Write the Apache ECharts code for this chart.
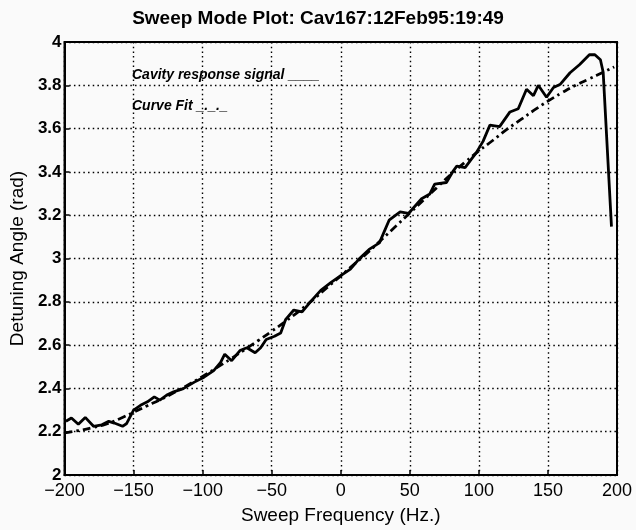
<!DOCTYPE html>
<html>
<head>
<meta charset="utf-8">
<title>Sweep Mode Plot</title>
<script src="https://cdn.jsdelivr.net/npm/echarts@6/dist/echarts.min.js"></script>
<style>
  html, body { margin: 0; padding: 0; background: #fafafa; }
  #chart { width: 636px; height: 530px; }
</style>
</head>
<body>
<div id="chart"></div>
<script>
// 测得的腔体响应 (Hz, rad)
var signalHz = [-199, -195, -190, -185, -179, -173, -168, -164, -158, -155,
  -150, -145, -140, -135, -131, -126, -121, -114, -106, -99,
  -92, -87, -84, -79, -73, -68, -62, -58, -54, -48,
  -43.5, -40, -34, -28, -23, -14.5, -7, 0, 7, 13,
  20.5, 28, 31, 35, 43, 49, 58.5, 64.5, 68, 76.5,
  81.5, 84, 90, 93.5, 98, 103, 108, 115, 122.5, 128.5,
  134.5, 139.5, 143, 149, 154, 159, 166, 173, 180, 184,
  188, 190, 196];
var signalVal = [2.248, 2.263, 2.234, 2.266, 2.225, 2.232, 2.248, 2.240, 2.225, 2.238,
  2.300, 2.322, 2.338, 2.361, 2.346, 2.369, 2.384, 2.399, 2.429, 2.452,
  2.482, 2.520, 2.558, 2.528, 2.575, 2.588, 2.565, 2.588, 2.626, 2.641,
  2.656, 2.717, 2.762, 2.754, 2.792, 2.853, 2.890, 2.921, 2.951, 2.996,
  3.042, 3.072, 3.117, 3.177, 3.215, 3.208, 3.276, 3.298, 3.344, 3.351,
  3.405, 3.427, 3.420, 3.450, 3.488, 3.541, 3.616, 3.609, 3.677, 3.692,
  3.782, 3.752, 3.800, 3.745, 3.790, 3.805, 3.858, 3.896, 3.941, 3.941,
  3.918, 3.860, 3.147];

// 拟合曲线
var fitHz = [-200, -190, -180, -170, -160, -150, -140, -130, -120, -110,
  -100, -90, -80, -70, -60, -50, -40, -30, -20, -10,
  0, 10, 20, 30, 40, 50, 60, 70, 80, 90,
  100, 110, 120, 130, 140, 150, 160, 170, 180, 190, 198];
var fitVal = [2.195, 2.205, 2.218, 2.235, 2.260, 2.290, 2.320, 2.350, 2.383, 2.418,
  2.455, 2.495, 2.535, 2.577, 2.620, 2.664, 2.710, 2.758, 2.810, 2.865,
  2.920, 2.975, 3.030, 3.090, 3.150, 3.210, 3.270, 3.330, 3.390, 3.445,
  3.497, 3.545, 3.595, 3.640, 3.685, 3.727, 3.765, 3.800, 3.830, 3.860, 3.885];

function pairs(xs, ys) {
    var out = [];
    for (var i = 0; i < xs.length; i++) out.push([xs[i], ys[i]]);
    return out;
}

var font = "'Liberation Sans', Arial, Helvetica, sans-serif";
var dotted = { color: '#000', width: 1.4, type: [1.5, 3.2] };

var chart = echarts.init(document.getElementById('chart'));
var option = {
    backgroundColor: '#fafafa',
    animation: false,
    grid: {
        left: 64, right: 19, top: 42, bottom: 47,
        show: true, borderColor: '#000', borderWidth: 2,
        containLabel: false
    },
    graphic: [
        {
            type: 'text', left: 'center', top: 9,
            style: {
                text: 'Sweep Mode Plot: Cav167:12Feb95:19:49',
                font: 'bold 19px ' + font, fill: '#000'
            }
        },
        {
            type: 'text', x: 132, y: 75,
            style: {
                text: 'Cavity response signal ____',
                font: 'italic bold 14px ' + font, fill: '#000',
                verticalAlign: 'middle'
            }
        },
        {
            type: 'text', x: 132, y: 106,
            style: {
                text: 'Curve Fit _._._',
                font: 'italic bold 14px ' + font, fill: '#000',
                verticalAlign: 'middle'
            }
        }
    ],
    xAxis: {
        type: 'value', min: -200, max: 200, interval: 50,
        name: 'Sweep Frequency (Hz.)',
        nameLocation: 'middle', nameGap: 31,
        nameTextStyle: { fontFamily: font, fontSize: 19, color: '#000' },
        axisLine: { show: true, onZero: false, lineStyle: { color: '#000', width: 2 } },
        axisTick: { show: true, inside: true, length: 5, lineStyle: { color: '#000', width: 1.5 } },
        axisLabel: {
            margin: 7, fontFamily: font, fontSize: 18, color: '#000',
            formatter: function (v) { return v < 0 ? '\u2212' + Math.abs(v) : String(v); }
        },
        splitLine: { show: true, lineStyle: dotted }
    },
    yAxis: {
        type: 'value', min: 2, max: 4, interval: 0.2,
        name: 'Detuning Angle (rad)',
        nameLocation: 'middle', nameGap: 33,
        nameTextStyle: { fontFamily: font, fontSize: 19, color: '#000' },
        axisLine: { show: true, onZero: false, lineStyle: { color: '#000', width: 2 } },
        axisTick: { show: true, inside: true, length: 5, lineStyle: { color: '#000', width: 1.5 } },
        axisLabel: {
            margin: 3, fontFamily: font, fontSize: 17, fontWeight: 'bold', color: '#000',
            formatter: function (v) { return String(Math.round(v * 10) / 10); }
        },
        splitLine: { show: true, lineStyle: dotted }
    },
    series: [
        {
            name: 'Cavity response signal',
            type: 'line',
            data: pairs(signalHz, signalVal),
            showSymbol: false,
            lineStyle: { color: '#000', width: 2.8 },
            z: 3
        },
        {
            name: 'Curve Fit',
            type: 'line',
            data: pairs(fitHz, fitVal),
            showSymbol: false,
            smooth: true,
            lineStyle: { color: '#000', width: 2.8, type: [8, 4, 2.5, 4] },
            z: 2
        }
    ]
};
chart.setOption(option);
</script>
</body>
</html>
